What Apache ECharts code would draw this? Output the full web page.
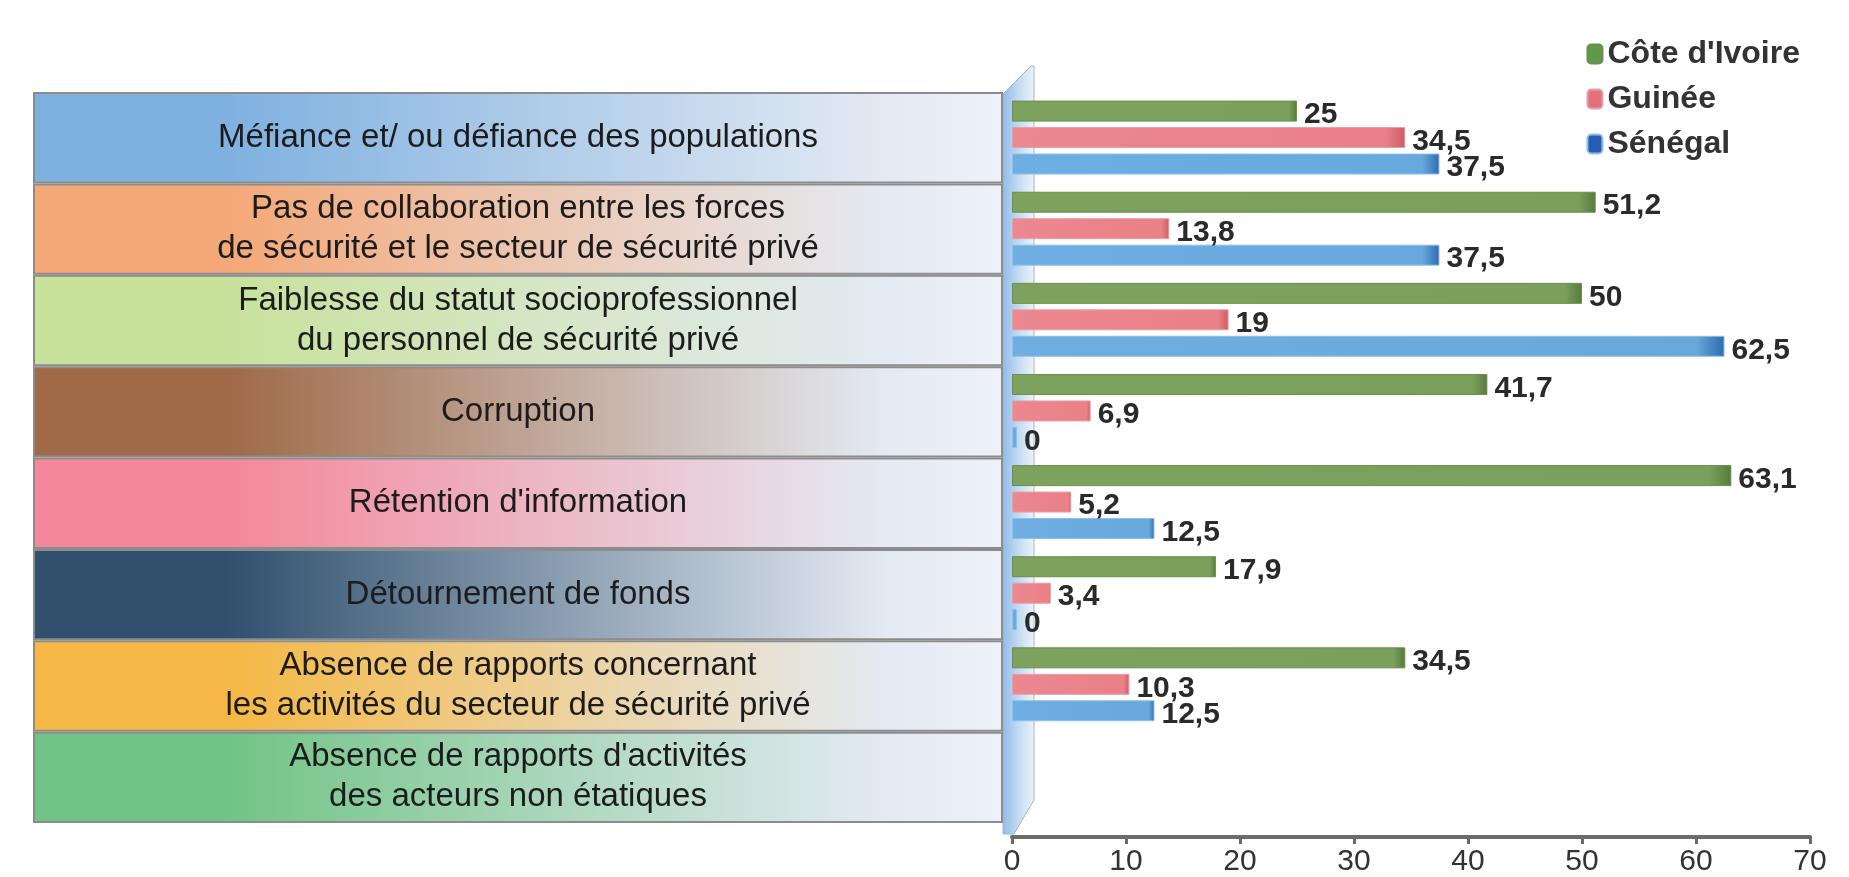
<!DOCTYPE html>
<html>
<head>
<meta charset="utf-8">
<script src="https://cdn.jsdelivr.net/npm/echarts@6/dist/echarts.min.js"></script>
<style>
  html, body { margin: 0; padding: 0; background: #fff; }
  #main { width: 1849px; height: 877px; }
</style>
</head>
<body>
<div id="main"></div>
<script>
// données du graphique
var categories = [
  'Méfiance et/ ou défiance des populations',
  'Pas de collaboration entre les forces\nde sécurité et le secteur de sécurité privé',
  'Faiblesse du statut socioprofessionnel\ndu personnel de sécurité privé',
  'Corruption',
  "Rétention d'information",
  'Détournement de fonds',
  'Absence de rapports concernant\nles activités du secteur de sécurité privé',
  "Absence de rapports d'activités\ndes acteurs non étatiques"
];
var coteIvoire = [25, 51.2, 50, 41.7, 63.1, 17.9, 34.5, null];
var guinee = [34.5, 13.8, 19, 6.9, 5.2, 3.4, 10.3, null];
var senegal = [37.5, 37.5, 62.5, 0, 12.5, 0, 12.5, null];
var xTicks = [0, 10, 20, 30, 40, 50, 60, 70];

// couleurs des bandeaux à gauche
var boxColors = ['#7fb1e0', '#f4a878', '#c8e29c', '#a06a48', '#f4889a', '#30506e', '#f5b844', '#72c486'];

var myChart = echarts.init(document.getElementById('main'));

function boxGradient(c) {
  return new echarts.graphic.LinearGradient(0, 0, 1, 0, [
    { offset: 0, color: c },
    { offset: 0.2, color: c },
    { offset: 0.88, color: '#e4eaf3' },
    { offset: 1, color: '#eef2f8' }
  ]);
}

function fmt(p) {
  if (p.value == null) return '';
  return String(p.value).replace('.', ',');
}

var barLabel = {
  show: true,
  position: 'right',
  distance: 7,
  offset: [0, 4],
  formatter: fmt,
  fontFamily: 'Liberation Sans, Arial',
  fontWeight: 'bold',
  fontSize: 30,
  color: '#2a2a2a'
};

var option = {
  backgroundColor: '#ffffff',
  animation: false,
  legend: {
    orient: 'vertical',
    right: 44,
    top: 33,
    itemWidth: 15,
    itemHeight: 19,
    itemGap: 13,
    textStyle: {
      fontFamily: 'Liberation Sans, Arial',
      fontWeight: 'bold',
      fontSize: 32,
      color: '#333'
    },
    data: [
      { name: "Côte d'Ivoire", itemStyle: { color: '#5f9a48' } },
      { name: 'Guinée', itemStyle: { color: '#e4707e' } },
      { name: 'Sénégal', itemStyle: { color: '#2a5cb4' } }
    ]
  },
  grid: [
    { left: 33, right: 846, top: 92, bottom: 54 },
    { left: 1012, right: 39, top: 92, bottom: 54 }
  ],
  xAxis: [
    { gridIndex: 0, type: 'value', min: 0, max: 1, show: false },
    {
      gridIndex: 1,
      type: 'value',
      min: 0,
      max: 70,
      interval: 10,
      offset: 16,
      axisLine: { show: true, lineStyle: { color: '#6b6b6b', width: 4 } },
      axisTick: { show: true, length: 7, lineStyle: { color: '#6b6b6b', width: 3 } },
      axisLabel: {
        margin: 10,
        fontFamily: 'Liberation Sans, Arial',
        fontSize: 30,
        color: '#333',
        formatter: function(v) { return xTicks.indexOf(v) >= 0 ? String(v) : ''; }
      },
      splitLine: { show: false }
    }
  ],
  yAxis: [
    { gridIndex: 0, type: 'category', data: categories, inverse: true, show: false },
    {
      gridIndex: 1,
      type: 'category',
      data: categories,
      inverse: true,
      axisLine: { show: false },
      axisTick: { show: false },
      axisLabel: { show: false }
    }
  ],
  graphic: [
    // petit mur 3D entre les bandeaux et les barres
    {
      type: 'polygon',
      z: 0,
      shape: { points: [[1003, 94], [1031, 66], [1034, 66], [1034, 800], [1014, 834], [1003, 834]] },
      style: {
        fill: new echarts.graphic.LinearGradient(0, 0, 1, 0, [
          { offset: 0, color: '#8fbbe6' },
          { offset: 0.5, color: '#c3dbf2' },
          { offset: 1, color: '#eef4fb' }
        ]),
        stroke: '#a9b4c0',
        lineWidth: 1
      }
    }
  ],
  series: [
    {
      type: 'bar',
      xAxisIndex: 0,
      yAxisIndex: 0,
      silent: true,
      barCategoryGap: '0%',
      data: categories.map(function(c, i) {
        return { value: 1, itemStyle: { color: boxGradient(boxColors[i]) } };
      }),
      itemStyle: { borderColor: '#8c8c8c', borderWidth: 2 },
      label: {
        show: true,
        position: 'inside',
        formatter: function(p) { return p.name; },
        fontFamily: 'Liberation Sans, Arial, sans-serif',
        fontSize: 33,
        lineHeight: 40,
        color: '#1c1c1c',
        align: 'center'
      }
    },
    {
      name: "Côte d'Ivoire",
      type: 'bar',
      xAxisIndex: 1,
      yAxisIndex: 1,
      barWidth: 21,
      barGap: '26%',
      data: coteIvoire,
      itemStyle: {
        color: new echarts.graphic.LinearGradient(0, 0, 1, 0, [
          { offset: 0, color: '#7ca25e' },
          { offset: 0.97, color: '#7aa05c' },
          { offset: 1, color: '#587a3c' }
        ]),
        borderColor: '#6a8f4c',
        borderWidth: 1
      },
      label: barLabel
    },
    {
      name: 'Guinée',
      type: 'bar',
      xAxisIndex: 1,
      yAxisIndex: 1,
      barWidth: 21,
      barGap: '26%',
      data: guinee,
      itemStyle: {
        color: new echarts.graphic.LinearGradient(0, 0, 1, 0, [
          { offset: 0, color: '#ec8890' },
          { offset: 0.95, color: '#ea8088' },
          { offset: 1, color: '#cc5c66' }
        ]),
        borderColor: '#e3a0a6',
        borderWidth: 1
      },
      label: barLabel
    },
    {
      name: 'Sénégal',
      type: 'bar',
      xAxisIndex: 1,
      yAxisIndex: 1,
      barWidth: 21,
      barGap: '26%',
      barMinHeight: 5,
      data: senegal,
      itemStyle: {
        color: new echarts.graphic.LinearGradient(0, 0, 1, 0, [
          { offset: 0, color: '#6eaee2' },
          { offset: 0.96, color: '#68a8dc' },
          { offset: 1, color: '#2f6bb0' }
        ]),
        borderColor: '#8fc0e8',
        borderWidth: 1
      },
      label: barLabel
    }
  ]
};

myChart.setOption(option);
</script>
</body>
</html>
